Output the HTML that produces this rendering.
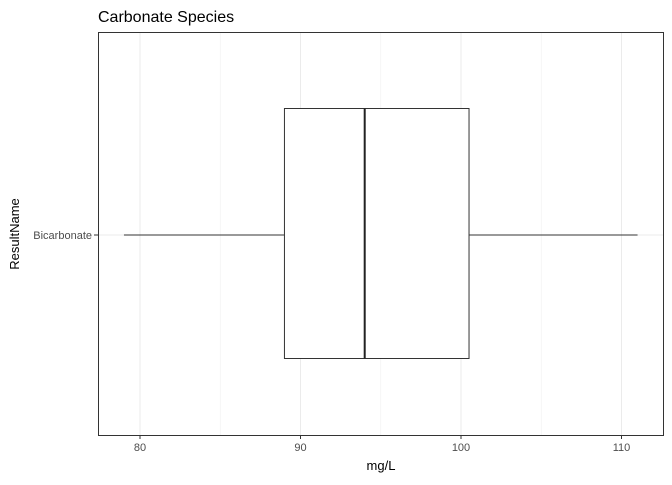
<!DOCTYPE html>
<html><head><meta charset="utf-8"><style>
body{margin:0;background:#fff;}
svg text{font-family:"Liberation Sans",sans-serif;}
</style></head><body>
<svg id="chart" width="672" height="480" viewBox="0 0 672 480" xmlns="http://www.w3.org/2000/svg">
<text x="98" y="22" font-size="16" fill="#000">Carbonate Species</text>
<g id="grid"></g>
<g id="marks"></g>
<rect x="98.5" y="32.5" width="565" height="403" fill="none" stroke="#333" stroke-width="1"/>
<g id="axes"></g>
<text x="381" y="470" font-size="13" text-anchor="middle" fill="#000">mg/L</text>
<text x="0" y="0" font-size="13" text-anchor="middle" fill="#000" transform="translate(19,234) rotate(-90)">ResultName</text>
</svg>
<script>
const categories = ["Bicarbonate"];
const whiskerLow = [79];
const q1 = [89];
const median = [94];
const q3 = [100.5];
const whiskerHigh = [111];
const xTicks = [80, 90, 100, 110];
const xMinor = [85, 95, 105];

const NS = "http://www.w3.org/2000/svg";
const x = v => 140 + (v - 80) * 16.05;
const yC = i => 235 + i * 0;
const boxTop = -127, boxH = 250;
function mk(tag, attrs, parent){const e=document.createElementNS(NS,tag);for(const k in attrs)e.setAttribute(k,attrs[k]);parent.appendChild(e);return e;}
const grid=document.getElementById('grid'), marks=document.getElementById('marks'), axes=document.getElementById('axes');
xMinor.forEach(v=>{const l=mk('line',{x1:x(v),x2:x(v),y1:32,y2:435,stroke:'#f0f0f0','stroke-width':0.6},grid);

});
xTicks.forEach(v=>{const l=mk('line',{x1:x(v),x2:x(v),y1:32,y2:435,stroke:'#ebebeb','stroke-width':1},grid);


const t=mk('line',{x1:x(v),x2:x(v),y1:435,y2:439,stroke:'#333'},axes);


const tx=mk('text',{x:x(v),y:451,'font-size':11,'text-anchor':'middle',fill:'#4d4d4d'},axes);tx.textContent=v;

});
categories.forEach((c,i)=>{const cy=yC(i);
const g=mk('line',{x1:98,x2:664,y1:cy,y2:cy,stroke:'#ebebeb'},grid);


const t=mk('line',{x1:94,x2:98,y1:cy,y2:cy,stroke:'#333'},axes);


const tx=mk('text',{x:92,y:cy+4,'font-size':11,'text-anchor':'end',fill:'#4d4d4d'},axes);tx.textContent=c;


const w1=mk('line',{x1:x(whiskerLow[i]),x2:x(q1[i]),y1:cy,y2:cy,stroke:'#333'},marks);


const w2=mk('line',{x1:x(q3[i]),x2:x(whiskerHigh[i]),y1:cy,y2:cy,stroke:'#333'},marks);


const b=mk('rect',{x:x(q1[i]),y:cy+boxTop+0.5,width:x(q3[i])-x(q1[i]),height:boxH,fill:'#fff',stroke:'#333'},marks);


const m=mk('line',{x1:x(median[i]),x2:x(median[i]),y1:cy+boxTop+0.5,y2:cy+boxTop+boxH+0.5,stroke:'#222','stroke-width':2},marks);

});
</script>
</body></html>
